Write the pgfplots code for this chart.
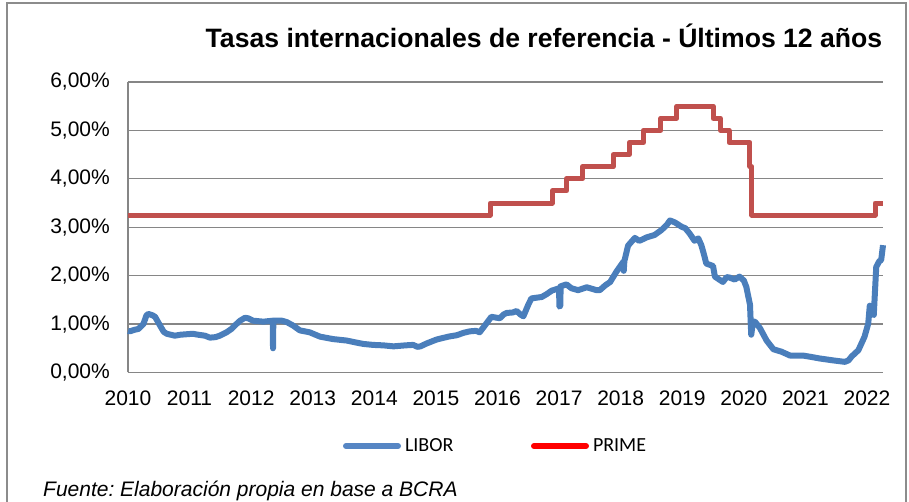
\documentclass[border=0pt]{standalone}
\usepackage{pgfplots}
\pgfplotsset{compat=1.18}
\usepackage{fontspec}
\setmainfont{Liberation Sans}
\newfontfamily\legfont{Carlito}
\frenchspacing
\definecolor{libor}{RGB}{74,126,187}
\definecolor{prime}{RGB}{192,80,77}
\definecolor{liborleg}{RGB}{86,134,196}
\definecolor{gridg}{RGB}{134,134,134}
\definecolor{frameg}{RGB}{140,140,140}
\begin{document}
\begin{tikzpicture}[x=1bp,y=1bp]
\path[use as bounding box] (-128,-129.5) rectangle (781,372.5);
\draw[frameg, line width=1.5bp] (-121,-135) -- (-121,369.5) -- (778,369.5) -- (778,-135);
\node[anchor=base, inner sep=0pt, font=\fontsize{26.6bp}{31bp}\selectfont\bfseries] at (416,324.5) {Tasas internacionales de referencia - Últimos 12 años};
\begin{axis}[
  at={(0,0)}, anchor=south west,
  scale only axis, width=755bp, height=290.5bp,
  xmin=2010, xmax=2022.26, ymin=0, ymax=6,
  axis x line*=bottom, axis y line*=left,
  axis line style={gridg, line width=1.3bp, -},
  xtick={2010,2011,...,2022},
  xticklabels={2010,2011,2012,2013,2014,2015,2016,2017,2018,2019,2020,2021,2022},
  ytick={0,1,2,3,4,5,6},
  yticklabels={{0,00\%},{1,00\%},{2,00\%},{3,00\%},{4,00\%},{5,00\%},{6,00\%}},
  major tick length=0pt,
  ymajorgrids, grid style={gridg, line width=1.3bp},
  /pgf/number format/assume math mode=true,
  tick label style={font=\fontsize{21bp}{25bp}\selectfont, inner sep=0pt},
  yticklabel style={anchor=east, xshift=-18bp},
  xticklabel style={anchor=north, yshift=-18.5bp},
  clip=false,
  legend columns=2,
  legend style={draw=none, fill=none, inner sep=0pt, outer sep=0pt,
    at={(215bp,-73.5bp)}, anchor=west,
    nodes={inner sep=0pt, font=\legfont\fontsize{20bp}{24bp}\selectfont},
    /tikz/every odd column/.append style={column sep=4bp}},
  legend image code/.code={\draw[#1, line cap=round] (0bp,0bp) -- (52bp,0bp);},
]
\addplot[libor, line width=6bp, line join=round, forget plot] coordinates {
(2010.00,0.86)(2010.03,0.85)(2010.10,0.88)(2010.17,0.90)(2010.25,1.00)(2010.30,1.18)(2010.33,1.21)(2010.40,1.18)(2010.44,1.15)(2010.52,0.97)(2010.58,0.84)(2010.63,0.80)(2010.76,0.76)(2010.85,0.78)(2010.95,0.79)(2011.05,0.80)(2011.14,0.78)(2011.25,0.76)(2011.33,0.72)(2011.42,0.73)(2011.49,0.76)(2011.60,0.83)(2011.68,0.90)(2011.76,1.00)(2011.82,1.07)(2011.90,1.13)(2011.95,1.12)(2012.03,1.07)(2012.20,1.05)(2012.35,1.07)(2012.355,0.50)(2012.36,1.07)(2012.50,1.07)(2012.58,1.04)(2012.68,0.97)(2012.79,0.87)(2012.95,0.83)(2013.12,0.74)(2013.33,0.69)(2013.55,0.66)(2013.70,0.62)(2013.82,0.59)(2013.98,0.57)(2014.15,0.56)(2014.31,0.54)(2014.50,0.56)(2014.63,0.57)(2014.70,0.53)(2014.75,0.54)(2014.85,0.60)(2015.01,0.68)(2015.20,0.74)(2015.34,0.77)(2015.45,0.82)(2015.55,0.85)(2015.65,0.86)(2015.71,0.83)(2015.80,0.98)(2015.90,1.15)(2016.04,1.12)(2016.10,1.20)(2016.15,1.23)(2016.25,1.24)(2016.31,1.27)(2016.37,1.20)(2016.42,1.16)(2016.50,1.40)(2016.55,1.53)(2016.72,1.56)(2016.80,1.62)(2016.88,1.69)(2017.00,1.74)(2017.005,1.36)(2017.02,1.38)(2017.025,1.78)(2017.12,1.82)(2017.20,1.74)(2017.31,1.70)(2017.45,1.76)(2017.61,1.70)(2017.66,1.70)(2017.75,1.80)(2017.83,1.87)(2017.93,2.08)(2018.04,2.28)(2018.05,2.10)(2018.06,2.30)(2018.12,2.62)(2018.23,2.78)(2018.30,2.72)(2018.34,2.74)(2018.42,2.79)(2018.55,2.84)(2018.66,2.94)(2018.75,3.05)(2018.80,3.14)(2018.88,3.10)(2018.99,3.01)(2019.05,2.98)(2019.12,2.87)(2019.20,2.72)(2019.26,2.77)(2019.31,2.63)(2019.35,2.45)(2019.39,2.25)(2019.50,2.20)(2019.53,1.98)(2019.60,1.92)(2019.66,1.87)(2019.72,1.97)(2019.77,1.96)(2019.85,1.92)(2019.93,1.98)(2020.00,1.90)(2020.04,1.77)(2020.10,1.40)(2020.12,0.78)(2020.15,1.05)(2020.18,1.05)(2020.26,0.92)(2020.37,0.66)(2020.48,0.48)(2020.61,0.43)(2020.75,0.35)(2020.96,0.35)(2021.10,0.32)(2021.23,0.29)(2021.45,0.25)(2021.64,0.22)(2021.70,0.25)(2021.75,0.33)(2021.86,0.46)(2021.96,0.74)(2022.02,1.01)(2022.045,1.38)(2022.08,1.25)(2022.11,1.19)(2022.15,2.18)(2022.20,2.30)(2022.23,2.32)(2022.26,2.63)
};
\addplot[prime, line width=5bp, const plot, line join=round, forget plot] coordinates {
(2010,3.25)(2015.88,3.50)(2016.89,3.75)(2017.12,4.00)(2017.38,4.25)(2017.88,4.50)(2018.14,4.75)(2018.37,5.00)(2018.65,5.25)(2018.91,5.50)(2019.50,5.25)(2019.62,5.00)(2019.76,4.75)(2020.10,4.25)(2020.13,3.25)(2022.13,3.50)(2022.26,3.50)
};
\addlegendimage{liborleg, line width=6bp}
\addlegendentry{\makebox[126bp][l]{LIBOR}}
\addlegendimage{red, line width=6bp}
\addlegendentry{PRIME}
\end{axis}
\node[anchor=base west, inner sep=0pt, font=\fontsize{21bp}{25bp}\selectfont\itshape] at (-85,-124.5) {Fuente: Elaboración propia en base a BCRA};
\end{tikzpicture}
\end{document}
